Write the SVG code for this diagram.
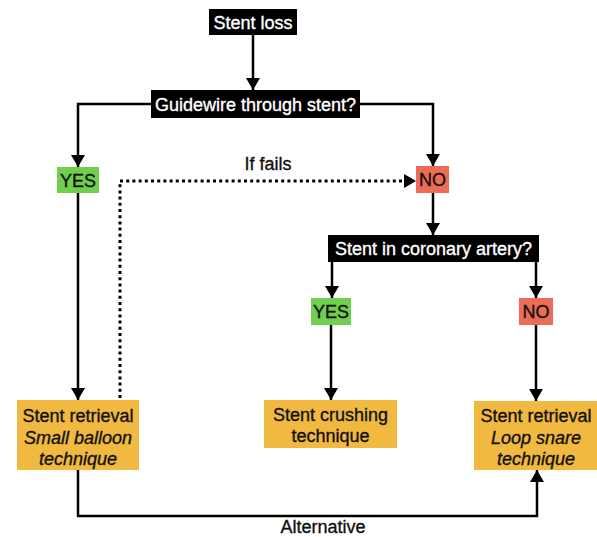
<svg xmlns="http://www.w3.org/2000/svg" width="597" height="537" viewBox="0 0 597 537">
<defs>
<marker id="ah" markerUnits="userSpaceOnUse" markerWidth="14" markerHeight="14" viewBox="0 0 12 14" refX="12" refY="7" orient="auto">
<path d="M0,0 L12,7 L0,14 Z" fill="#000"/>
</marker>
<style>
.t{font-family:"Liberation Sans",Arial,sans-serif;font-size:18px;text-anchor:middle;stroke-width:0.35}
.w{fill:#fff;stroke:#fff}
.k{fill:#111;stroke:#111}
.i{font-style:italic}
.blk{fill:#000}
.grn{fill:#70cf4e}
.red{fill:#ec6c58}
.org{fill:#f1b93f}
.c{fill:none;stroke:#000;stroke-width:2.5}
.d{fill:none;stroke:#000;stroke-width:3;stroke-dasharray:3 3.2}
</style>
</defs>
<rect width="597" height="537" fill="#fff"/>
<g id="connectors">
<path class="c" d="M253,35 V90" marker-end="url(#ah)"/>
<path class="c" d="M151,104 H78 V167" marker-end="url(#ah)"/>
<path class="c" d="M360,104 H433 V166" marker-end="url(#ah)"/>
<path class="c" d="M433,193 V235" marker-end="url(#ah)"/>
<path class="c" d="M332,262 V298" marker-end="url(#ah)"/>
<path class="c" d="M536,262 V298" marker-end="url(#ah)"/>
<path class="c" d="M78,193 V400" marker-end="url(#ah)"/>
<path class="c" d="M331,325 V400" marker-end="url(#ah)"/>
<path class="c" d="M536,325 V401" marker-end="url(#ah)"/>
<path class="d" d="M120,398 V181 H404"/>
<path d="M404,174 L416,181 L404,188 Z" fill="#000"/>
<path class="c" d="M78,470 V516 H537 V470" marker-end="url(#ah)"/>
<text class="t k" x="268" y="170">If fails</text>
<text class="t k" x="323" y="533">Alternative</text>
</g>
<g id="stent-loss">
<rect class="blk" x="209" y="9" width="88" height="26"/>
<text class="t w" x="253" y="28.5">Stent loss</text>
</g>
<g id="guidewire">
<rect class="blk" x="151" y="90" width="209" height="28"/>
<text class="t w" x="255.5" y="110.5">Guidewire through stent?</text>
</g>
<g id="yes1">
<rect class="grn" x="57" y="167" width="42" height="26"/>
<text class="t k" x="78" y="186.5">YES</text>
</g>
<g id="no1">
<rect class="red" x="416" y="166" width="33" height="27"/>
<text class="t k" x="432.5" y="186">NO</text>
</g>
<g id="coronary">
<rect class="blk" x="328" y="235" width="211" height="27"/>
<text class="t w" x="433.5" y="255">Stent in coronary artery?</text>
</g>
<g id="yes2">
<rect class="grn" x="311" y="298" width="40" height="27"/>
<text class="t k" x="331" y="318">YES</text>
</g>
<g id="no2">
<rect class="red" x="519" y="298" width="34" height="27"/>
<text class="t k" x="536" y="318">NO</text>
</g>
<g id="small-balloon">
<rect class="org" x="17" y="400" width="122" height="70"/>
<text class="t k" x="78" y="421.5">Stent retrieval</text>
<text class="t k i" x="78" y="443.5">Small balloon</text>
<text class="t k i" x="78" y="464.5">technique</text>
</g>
<g id="crushing">
<rect class="org" x="264" y="400" width="133" height="48"/>
<text class="t k" x="330.5" y="420.5">Stent crushing</text>
<text class="t k" x="330.5" y="441.5">technique</text>
</g>
<g id="loop-snare">
<rect class="org" x="474" y="401" width="123" height="69"/>
<text class="t k" x="536" y="421.5">Stent retrieval</text>
<text class="t k i" x="536" y="443.5">Loop snare</text>
<text class="t k i" x="536" y="464.5">technique</text>
</g>
</svg>
